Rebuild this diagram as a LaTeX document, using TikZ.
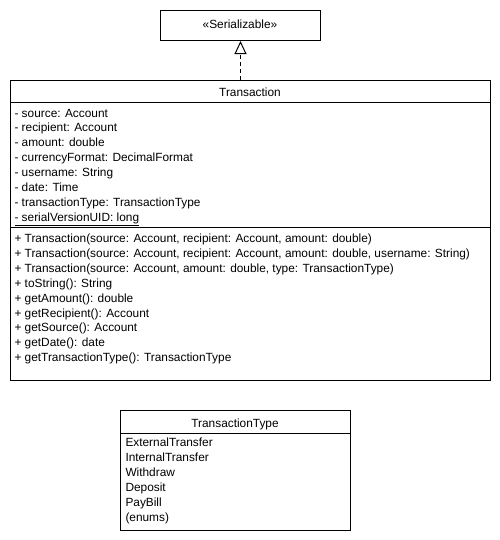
\documentclass[tikz,border=0pt]{standalone}
\usepackage{fontspec}
\setmainfont{Liberation Sans}
\usetikzlibrary{arrows.meta}

\newcommand*\pixel{0.75pt}
\newcommand*\rowheight{14.9}
\tikzset{classbox/.style 2 args={
    draw,
    line width=\pixel,
    rectangle,
    anchor=north west,
    inner sep=0pt,
    minimum width=#1*\pixel,
    minimum height=#2*\pixel
}}
\tikzset{member/.style={
    anchor=base west,
    inner sep=0pt,
    font=\fontsize{8.9pt}{11pt}\selectfont
}}
\tikzset{classname/.style={
    anchor=base,
    inner sep=0pt,
    font=\fontsize{8.9pt}{11pt}\selectfont
}}
\tikzset{realizes/.style={
    line width=\pixel,
    dash pattern=on 3pt off 2.25pt,
    -{Triangle[open,length=9.75pt,width=9pt]}
}}

\begin{document}
\begin{tikzpicture}[x=\pixel,y=-\pixel,line width=\pixel]
    \useasboundingbox (0,0) rectangle (500,540);

    % First draw the class boxes.
    \node[classbox={160}{30}] (serializable) at (160,10) {};
    \node[classbox={480}{300}] (transaction) at (10,80) {};
    \node[classbox={230}{120}] (transactiontype) at (120,410) {};

    % Class names.
    \node[classname] (serializablename) at (240,28) {«Serializable»};
    \node[classname] (transactionname) at (250,96) {Transaction};
    \node[classname] (transactiontypename) at (235,427) {TransactionType};

    % Draw the compartment dividers.
    \draw (10,102) -- (490,102);
    \draw (10,227) -- (490,227);
    \draw (120,433) -- (350,433);

    % Transaction fields.
    \foreach \i/\field in {0/- source: Account,1/- recipient: Account,2/- amount: double,
        3/- currencyFormat: DecimalFormat,4/- username: String,5/- date: Time,
        6/- transactionType: TransactionType,7/\underline{- serialVersionUID: long}}
        \node[member] (field\i) at (14,117+\rowheight*\i) {\field};

    % Transaction methods.
    \foreach \i/\method in {{0/+ Transaction(source: Account, recipient: Account, amount: double)},
        {1/+ Transaction(source: Account, recipient: Account, amount: double, username: String)},
        {2/+ Transaction(source: Account, amount: double, type: TransactionType)},
        3/+ toString(): String,4/+ getAmount(): double,5/+ getRecipient(): Account,
        6/+ getSource(): Account,7/+ getDate(): date,8/+ getTransactionType(): TransactionType}
        \node[member] (method\i) at (14,242.5+\rowheight*\i) {\method};

    % TransactionType values.
    \foreach \i/\value in {0/ExternalTransfer,1/InternalTransfer,2/Withdraw,3/Deposit,4/PayBill,5/(enums)}
        \node[member] (value\i) at (125,446.5+\rowheight*\i) {\value};

    % Transaction realizes Serializable.
    \draw[realizes] (serializable.south |- transaction.north) -- (serializable.south);

\end{tikzpicture}
\end{document}
